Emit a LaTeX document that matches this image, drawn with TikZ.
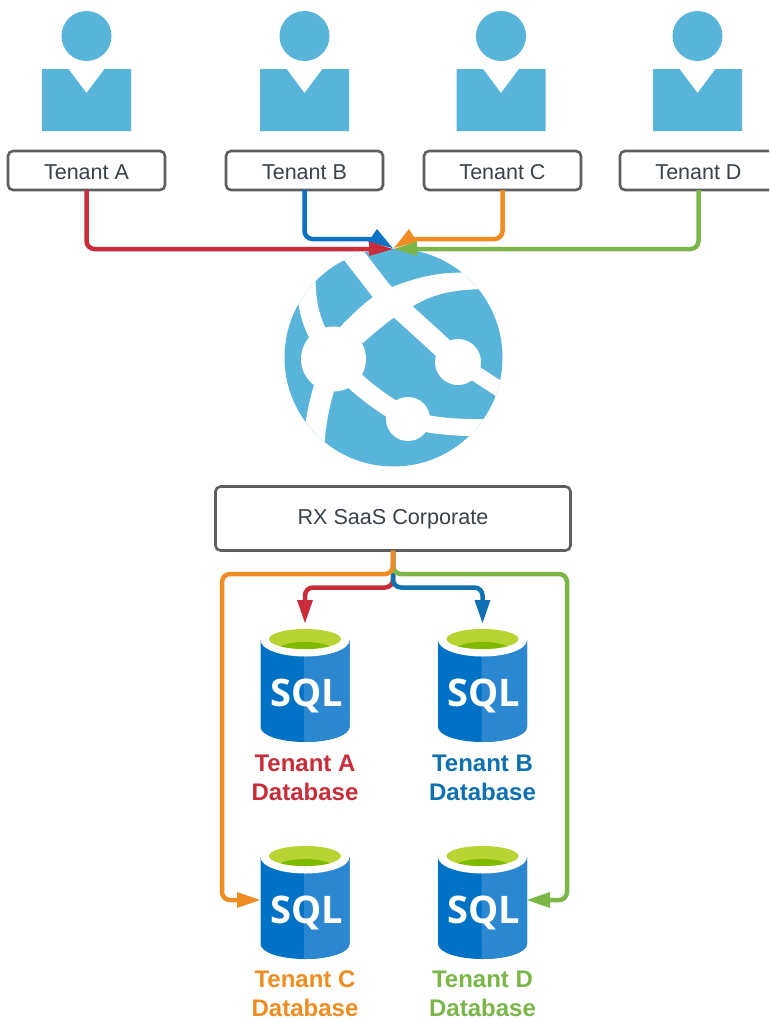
\documentclass[tikz,border=0pt]{standalone}
\usepackage{fontspec}
\setmainfont{Liberation Sans}
\newfontfamily\sqlfont{Open Sans}
\usetikzlibrary{calc}
\definecolor{azure}{HTML}{59B4D9}
\definecolor{boxline}{HTML}{5E5E5E}
\definecolor{boxtext}{HTML}{3A414A}
\definecolor{cred}{HTML}{C92D39}
\definecolor{cblue}{HTML}{0C72C4}
\definecolor{cblueb}{HTML}{1071B2}
\definecolor{corange}{HTML}{EF8D22}
\definecolor{cgreen}{HTML}{7AB648}
\definecolor{sqldark}{HTML}{0072C6}
\definecolor{sqllight}{HTML}{2A87D0}
\definecolor{limea}{HTML}{B8D432}
\definecolor{limeb}{HTML}{7FBA00}
\tikzset{
  tenantbox/.style={draw=boxline,line width=2.6pt,fill=white,rounded corners=5pt,minimum width=157pt,minimum height=39pt,inner sep=0pt,outer sep=0pt,text=boxtext,text height=18.4pt,text depth=0pt,font=\fontsize{21.5}{24}\selectfont},
  corpbox/.style={tenantbox,minimum width=355pt,minimum height=64pt,text height=15.5pt,text depth=4.5pt,font=\fontsize{21.6}{24}\selectfont},
  link/.style={line width=4.5pt,rounded corners=8pt},
  dblabel/.style={inner sep=0pt,font=\fontsize{24}{29}\selectfont\bfseries,align=center},
  band/.style={draw=white,line cap=butt},
  person/.pic={
    \fill[azure] (0,-33) circle (25);
    \fill[azure] (-44.5,0) -- (-18,0) -- (0,24) -- (18,0) -- (44.5,0) -- (44.5,62) -- (-44.5,62) -- cycle;
  },
  sqlcan/.pic={
    \fill[sqldark] (-44.5,0) -- (-44.5,87) arc[start angle=180,end angle=0,x radius=44.5,y radius=15] -- (44.5,0) -- cycle;
    \fill[sqllight] (-1,0) -- (-1,102) arc[start angle=90,end angle=0,x radius=45.5,y radius=15] -- (44.5,0) -- cycle;
    \fill[white] (0,0) ellipse[x radius=44.5,y radius=16.5];
    \begin{scope}
      \clip (0,-1) ellipse[x radius=36,y radius=10];
      \fill[limea] (-40,-12) rectangle (40,12);
      \fill[limeb] (0,9.5) ellipse[x radius=27,y radius=7.5];
    \end{scope}
    \node[inner sep=0pt,text=white,font=\sqlfont\fontsize{38}{38}\selectfont\bfseries] at (1.5,56) {SQL};
  }
}
\begin{document}
\begin{tikzpicture}[x=1pt,y=-1pt]
\useasboundingbox (0,0) rectangle (769,1020);
\clip (0,0) rectangle (769,1020);
\fill[white] (0,0) rectangle (769,1020);

% people
\pic at (86.5,69) {person};
\pic at (304.5,69) {person};
\pic at (501,69) {person};
\pic at (697.5,69) {person};

% tenant boxes
\node[tenantbox] (ta) at (86.5,170.5) {Tenant A};
\node[tenantbox] (tb) at (304.5,170.5) {Tenant B};
\node[tenantbox] (tc) at (502.5,170.5) {Tenant C};
\node[tenantbox] (td) at (698.5,170.5) {Tenant D};

% globe
\coordinate (gc) at (393.5,357.5);
\fill[azure] (gc) circle (109);
\begin{scope}
  \clip (gc) circle (109);
  \draw[band,line width=19pt] (333,358) .. controls (318,335) and (305,320) .. (306,270);
  \draw[band,line width=21pt] (333,358) .. controls (326,385) and (313,410) .. (313,470);
  \fill[white] (340,327) .. controls (355,312) and (372,294) .. (392,287) .. controls (415,278) and (440,271) .. (470,273) -- (490,289) .. controls (450,289) and (430,295) .. (410,308) .. controls (395,315) and (380,328) .. (363,343) -- cycle;
  \draw[band,line width=21pt] (348,248) -- (382,292) .. controls (395,305) and (415,322) .. (458,362);
  \draw[band,line width=15.5pt] (458,362) -- (510,396);
  \draw[band,line width=19pt] (333,358) .. controls (360,390) and (385,405) .. (408,419);
  \draw[band,line width=17pt] (408,419) .. controls (430,426) and (460,429) .. (505,427);
  \fill[white] (333.5,359) circle (32.5);
  \fill[white] (458,362) circle (23);
  \fill[white] (408,419) circle (22);
\end{scope}

% top connectors
\coordinate (tipb) at (392.5,248);
\coordinate (tipc) at (394,248);
\coordinate (tipa) at (393,249);
\coordinate (tipd) at (394,249);
\draw[link,cblue] (tb.south) |- (372,239);
\fill[cblue] (tipb) -- (377,229) -- (368,242) -- cycle;
\draw[link,corange] (tc.south) |- (414,239);
\fill[corange] (tipc) -- (409,229) -- (417,242) -- cycle;
\draw[link,cred] (ta.south) |- (372,249);
\fill[cred] (tipa) -- (369,241.5) -- (369,256) -- cycle;
\draw[link,cgreen] (td.south) |- (414,249);
\fill[cgreen] (tipd) -- (417,241.5) -- (417,256) -- cycle;

% corporate box
\node[corpbox] (corp) at (393,518.5) {RX SaaS Corporate};

% databases
\pic at (305,640) {sqlcan};
\pic at (482.5,640) {sqlcan};
\pic at (305,857) {sqlcan};
\pic at (482.5,857) {sqlcan};

\coordinate (dba) at (305,623);
\coordinate (dbb) at (482.5,623);
\coordinate (dbc) at (260,900);
\coordinate (dbd) at (527,900);

% lower connectors
\draw[link,cred] (corp.south) |- ++(-44,37) -| ($(dba)+(0,-18)$);
\fill[cred] (dba) -- ++(-8,-23) -- ++(16,0) -- cycle;
\draw[link,cblueb] (corp.south) |- ++(44,37) -| ($(dbb)+(0,-18)$);
\fill[cblueb] (dbb) -- ++(-8,-23) -- ++(16,0) -- cycle;
\draw[link,cgreen] (corp.south) |- (567,574) |- ($(dbd)+(18,0)$);
\fill[cgreen] (dbd) -- ++(23,-8) -- ++(0,16) -- cycle;
\draw[link,corange] (corp.south) |- (222,574) |- ($(dbc)+(-18,0)$);
\fill[corange] (dbc) -- ++(-23,-8) -- ++(0,16) -- cycle;

% labels
\node[dblabel,text=cred] (la) at (305,777.5) {Tenant A\\Database};
\node[dblabel,text=cblueb] (lb) at (482.5,777.5) {Tenant B\\Database};
\node[dblabel,text=corange] (lc) at (305,993.5) {Tenant C\\Database};
\node[dblabel,text=cgreen] (ld) at (482.5,993.5) {Tenant D\\Database};
\end{tikzpicture}
\end{document}
